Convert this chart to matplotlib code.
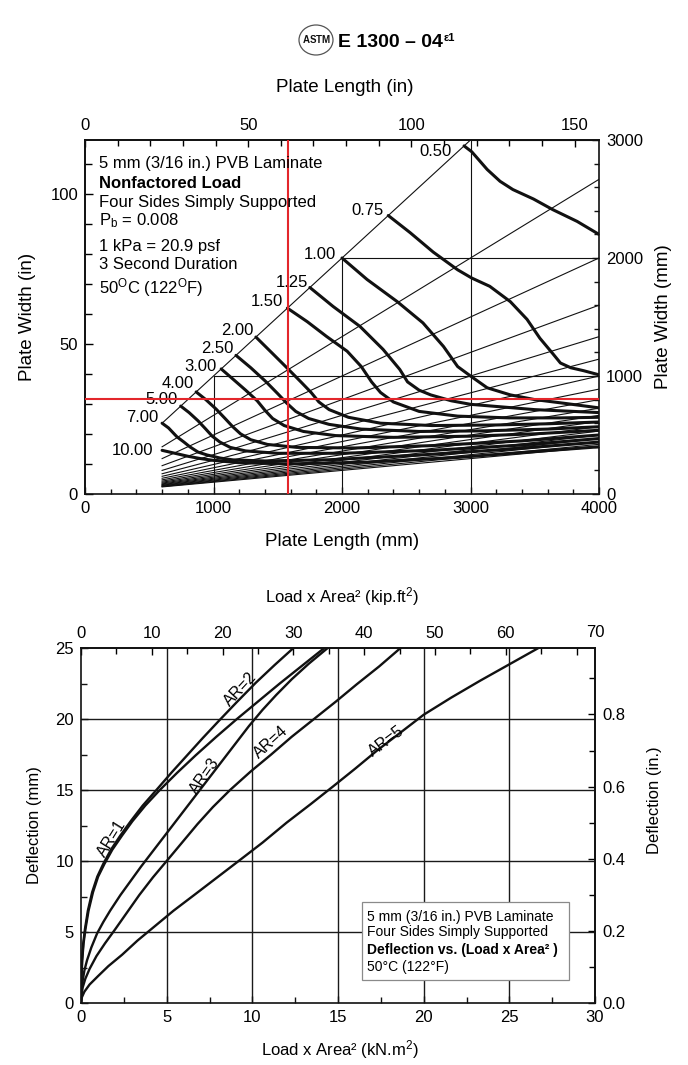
import matplotlib
matplotlib.use("Agg")
import matplotlib.pyplot as plt
from matplotlib.ticker import MultipleLocator, FixedLocator, FuncFormatter
from matplotlib.patches import Rectangle, Ellipse

plt.rcParams['font.family'] = ['Liberation Sans', 'DejaVu Sans']
plt.rcParams['mathtext.fontset'] = 'custom'
plt.rcParams['mathtext.rm'] = 'Liberation Sans'
plt.rcParams['mathtext.it'] = 'Liberation Sans:italic'
plt.rcParams['mathtext.bf'] = 'Liberation Sans:bold'

# ---------------- Nonfactored load chart (plate dimensions in mm) ----------------
length_min_mm = 600
length_max_mm = 4000
width_max_mm = 3000
aspect_ratios = [1.0, 1.5, 2.0, 2.5, 3.0, 3.5, 4.0, 4.5, 5.0, 5.5, 6.0, 6.5,
                 7.0, 7.5, 8.0, 8.5, 9.0, 9.5, 10.0]
grid_mm = [1000, 2000, 3000]
length_ticks_mm = [0, 1000, 2000, 3000, 4000]
width_ticks_mm = [0, 1000, 2000, 3000]
length_ticks_in = [0, 50, 100, 150]
width_ticks_in = [0, 50, 100]

# load contours (kPa): plate length / plate width pairs in mm
load_050_L = [2950, 3010, 3130, 3230, 3330, 3490, 3640, 3830, 4000]
load_050_W = [2950, 2900, 2750, 2650, 2580, 2500, 2410, 2310, 2200]
load_075_L = [2360, 2530, 2710, 2900, 3010, 3150, 3310, 3440, 3540, 3640, 3700, 3780, 3880, 4000]
load_075_W = [2360, 2215, 2050, 1900, 1830, 1760, 1630, 1480, 1320, 1190, 1110, 1070, 1045, 1010]
load_100_L = [2000, 2195, 2430, 2630, 2790, 2900, 3000, 3130, 3310, 3500, 3720, 4000]
load_100_W = [2000, 1818, 1630, 1450, 1250, 1080, 1000, 900, 840, 800, 770, 730]
load_125_L = [1750, 1930, 2140, 2320, 2450, 2510, 2600, 2690, 2850, 3000, 3500, 4000]
load_125_W = [1750, 1590, 1420, 1225, 1055, 950, 880, 840, 790, 760, 715, 690]
load_150_L = [1575, 1730, 1880, 2040, 2150, 2230, 2300, 2400, 2600, 2900, 3300, 3700, 4000]
load_150_W = [1575, 1460, 1335, 1210, 1080, 950, 860, 780, 700, 660, 645, 645, 650]
load_200_L = [1330, 1460, 1580, 1680, 1760, 1820, 1900, 2050, 2300, 2700, 3200, 3600, 4000]
load_200_W = [1330, 1190, 1060, 950, 860, 780, 715, 650, 600, 580, 585, 595, 610]
load_250_L = [1175, 1290, 1410, 1500, 1570, 1640, 1740, 1900, 2150, 2600, 3100, 3600, 4000]
load_250_W = [1175, 1070, 950, 850, 770, 700, 640, 590, 550, 530, 535, 550, 570]
load_300_L = [1060, 1150, 1250, 1340, 1400, 1460, 1550, 1700, 1950, 2400, 3000, 3500, 4000]
load_300_W = [1060, 975, 880, 790, 710, 640, 580, 530, 495, 480, 490, 510, 540]
load_400_L = [865, 940, 1020, 1090, 1150, 1210, 1290, 1420, 1650, 2100, 2700, 3400, 4000]
load_400_W = [865, 800, 720, 640, 570, 510, 460, 420, 395, 390, 410, 450, 500]
load_500_L = [745, 810, 880, 940, 990, 1050, 1130, 1250, 1500, 2000, 2700, 3400, 4000]
load_500_W = [745, 690, 620, 550, 490, 440, 395, 365, 345, 345, 370, 415, 470]
load_700_L = [600, 650, 716, 770, 817, 880, 949, 1050, 1152, 1400, 1900, 2600, 3300, 4000]
load_700_W = [600, 560, 484, 440, 399, 355, 331, 305, 289, 280, 290, 330, 380, 440]
load_1000_L = [600, 700, 800, 900, 1000, 1200, 1600, 2200, 2900, 3500, 4000]
load_1000_W = [370, 345, 320, 300, 285, 265, 255, 270, 310, 360, 400]

load_names = ['0.50', '0.75', '1.00', '1.25', '1.50', '2.00', '2.50',
              '3.00', '4.00', '5.00', '7.00', '10.00']
load_lengths = [load_050_L, load_075_L, load_100_L, load_125_L, load_150_L, load_200_L,
                load_250_L, load_300_L, load_400_L, load_500_L, load_700_L, load_1000_L]
load_widths = [load_050_W, load_075_W, load_100_W, load_125_W, load_150_W, load_200_W,
               load_250_W, load_300_W, load_400_W, load_500_W, load_700_W, load_1000_W]
label_L = [2724, 2202, 1829, 1611, 1416, 1183, 1027, 895, 724, 599, 444, 366]
label_W = [2906, 2404, 2031, 1793, 1631, 1385, 1232, 1079, 935, 799, 646, 365]

example_length_mm = 1580
example_width_mm = 807

info_lines = ['5 mm (3/16 in.) PVB Laminate', 'Nonfactored Load',
              'Four Sides Simply Supported', r'P$_\mathrm{b}$ = 0.008',
              '1 kPa = 20.9 psf', '3 Second Duration',
              r'50$^\mathrm{O}$C (122$^\mathrm{O}$F)']
info_bold = [False, True, False, False, False, False, False]

# ---------------- Deflection chart (load x area^2 in kN.m^2, deflection in mm) ----------------
ar_names = ['AR=1', 'AR=2', 'AR=3', 'AR=4', 'AR=5']
ar1_x = [0, 0.025, 0.07, 0.15, 0.26, 0.44, 0.7, 1.0, 1.37, 1.83, 2.4, 3.0, 3.75,
         4.6, 5.6, 6.7, 7.9, 9.1, 10.35, 11.6, 12.9, 14.2]
ar1_y = [0, 1.6, 3.0, 4.2, 5.2, 6.5, 7.8, 8.9, 9.8, 10.8, 11.8, 12.8, 13.9,
         15.0, 16.2, 17.45, 18.75, 20.0, 21.25, 22.5, 23.75, 25.0]
ar2_x = [0, 0.02, 0.06, 0.13, 0.23, 0.4, 0.65, 0.95, 1.3, 1.75, 2.3, 2.9, 3.6,
         4.4, 5.3, 6.2, 7.1, 8.07, 9.1, 10.2, 11.3, 12.4]
ar2_y = [0, 1.6, 3.0, 4.2, 5.2, 6.5, 7.8, 8.9, 9.8, 10.8, 11.8, 12.8, 13.9,
         15.0, 16.25, 17.45, 18.65, 19.9, 21.2, 22.55, 23.8, 25.0]
ar3_x = [0, 0.03, 0.1, 0.2, 0.35, 0.6, 0.94, 1.3, 1.7, 2.3, 2.9, 3.5, 4.2, 4.9,
         5.6, 6.3, 7.0, 7.7, 8.4, 9.1, 9.8, 10.6, 11.4, 12.3, 13.3, 14.4]
ar3_y = [0, 0.8, 1.6, 2.3, 3.0, 3.9, 4.9, 5.7, 6.5, 7.6, 8.6, 9.6, 10.7, 11.8,
         12.9, 14.0, 15.1, 16.2, 17.3, 18.4, 19.5, 20.65, 21.7, 22.8, 23.9, 25.0]
ar4_x = [0, 0.03, 0.1, 0.25, 0.5, 0.9, 1.4, 2.0, 2.7, 3.4, 4.2, 5.0, 5.9, 6.8,
         7.7, 8.7, 9.9, 11.1, 12.3, 13.6, 14.9, 16.1, 17.4, 18.65]
ar4_y = [0, 0.6, 1.1, 1.7, 2.4, 3.3, 4.2, 5.2, 6.4, 7.6, 8.85, 10.0, 11.3, 12.6,
         13.8, 15.0, 16.3, 17.5, 18.75, 20.0, 21.25, 22.45, 23.7, 25.0]
ar5_x = [0, 0.05, 0.2, 0.5, 1.0, 1.6, 2.4, 3.3, 4.3, 5.4, 6.6, 7.9, 9.2, 10.6,
         12.0, 13.4, 14.7, 16.0, 17.3, 18.6, 20.0, 21.6, 23.3, 25.0, 26.7]
ar5_y = [0, 0.4, 0.8, 1.3, 1.9, 2.6, 3.4, 4.4, 5.4, 6.5, 7.6, 8.8, 10.0, 11.3,
         12.7, 14.0, 15.24, 16.5, 17.8, 19.0, 20.3, 21.5, 22.7, 23.85, 25.0]
ar_x = [ar1_x, ar2_x, ar3_x, ar4_x, ar5_x]
ar_y = [ar1_y, ar2_y, ar3_y, ar4_y, ar5_y]
ar_label_x = [1.8, 9.3, 7.2, 11.1, 17.8]
ar_label_y = [11.6, 22.1, 16.0, 18.4, 18.4]
ar_label_rot = [58, 47, 55, 42, 37]

kNm2_per_kipft2 = 0.41325
mm_per_in = 25.4
x_ticks_kNm2 = [0, 5, 10, 15, 20, 25, 30]
y_ticks_mm = [0, 5, 10, 15, 20, 25]
x_ticks_kipft2 = [0, 10, 20, 30, 40, 50, 60, 70]
y_ticks_in = [0.0, 0.2, 0.4, 0.6, 0.8]

note_lines = ['5 mm (3/16 in.) PVB Laminate', 'Four Sides Simply Supported',
              'Deflection vs. (Load x Area² )', '50°C (122°F)']
note_bold = [False, False, True, False]

# ---------------- figure ----------------
W_PX, H_PX = 688, 1065
fig = plt.figure(figsize=(W_PX / 100, H_PX / 100), dpi=100)


def fx(px):
    return px / W_PX


def fy(py):
    return 1 - py / H_PX


TICK_FS = 12
LABEL_FS = 13.5
LINE_K = '#111111'

# ---- header: emblem + designation ----
fig.add_artist(Ellipse((fx(316), fy(40)), 34 / W_PX, 30 / H_PX, fill=False,
                       lw=0.9, ec='#555555', transform=fig.transFigure))
for k, ch in enumerate('ASTM'):
    fig.text(fx(306.5 + k * 6.4), fy(40), ch, fontsize=7, fontweight='bold',
             ha='center', va='center', color=LINE_K,
             family=['Liberation Sans Narrow', 'Liberation Sans'])
hdr = fig.text(fx(338), fy(47), 'E 1300 – 04', fontsize=14, fontweight='bold',
               ha='left', va='baseline')
renderer = fig.canvas.get_renderer()
bb = hdr.get_window_extent(renderer)
fig.text(bb.x1 / fig.bbox.width + 1 / W_PX, fy(41), 'ε1', fontsize=8,
         fontweight='bold', ha='left', va='baseline')

# ---- top chart ----
ax1 = fig.add_axes([fx(85), fy(494), (599 - 85) / W_PX, (494 - 140) / H_PX])
ax1.set_xlim(0, length_max_mm)
ax1.set_ylim(0, width_max_mm)

for ar in aspect_ratios:
    l_end = min(length_max_mm, width_max_mm * ar)
    ax1.plot([length_min_mm, l_end], [length_min_mm / ar, l_end / ar],
             color=LINE_K, lw=0.8, zorder=2)
for g in grid_mm:
    ax1.plot([g, g], [0, g], color=LINE_K, lw=0.8, zorder=2)
    ax1.plot([g, length_max_mm], [g, g], color=LINE_K, lw=0.8, zorder=2)

for L, Wd in zip(load_lengths, load_widths):
    ax1.plot(L, Wd, color=LINE_K, lw=2.2, solid_joinstyle='round',
             solid_capstyle='round', zorder=3)
for name, lx, ly in zip(load_names, label_L, label_W):
    ax1.text(lx, ly, name, fontsize=12, ha='center', va='center', zorder=4)

ax1.axvline(example_length_mm, color='#e3262b', lw=1.5, zorder=5)
ax1.axhline(example_width_mm, color='#e3262b', lw=1.5, zorder=5)

ax1.xaxis.set_major_locator(FixedLocator(length_ticks_mm))
ax1.xaxis.set_minor_locator(MultipleLocator(200))
ax1.yaxis.tick_right()
ax1.yaxis.set_major_locator(FixedLocator(width_ticks_mm))
ax1.yaxis.set_minor_locator(MultipleLocator(200))
ax1.tick_params(which='both', direction='in', top=False, left=False, right=True,
                labelsize=TICK_FS, width=1.0, color=LINE_K)
ax1.tick_params(which='major', length=5, pad=5)
ax1.tick_params(which='minor', length=3.5)
for s in ax1.spines.values():
    s.set_linewidth(1.2)
    s.set_color(LINE_K)

sec_top1 = ax1.secondary_xaxis('top', functions=(lambda v: v / mm_per_in,
                                                 lambda v: v * mm_per_in))
sec_top1.xaxis.set_major_locator(FixedLocator(length_ticks_in))
sec_top1.xaxis.set_minor_locator(MultipleLocator(10))
sec_top1.tick_params(which='both', direction='in', labelsize=TICK_FS, width=1.0)
sec_top1.tick_params(which='major', length=5, pad=5)
sec_top1.tick_params(which='minor', length=4)
sec_top1.spines['top'].set_linewidth(1.2)

sec_left1 = ax1.secondary_yaxis('left', functions=(lambda v: v / mm_per_in,
                                                   lambda v: v * mm_per_in))
sec_left1.yaxis.set_major_locator(FixedLocator(width_ticks_in))
sec_left1.yaxis.set_minor_locator(MultipleLocator(10))
sec_left1.tick_params(which='both', direction='in', labelsize=TICK_FS, width=1.0)
sec_left1.tick_params(which='major', length=6, pad=5)
sec_left1.tick_params(which='minor', length=5)
sec_left1.spines['left'].set_linewidth(1.2)

info_base = [168, 188, 207, 225, 251, 269, 293]
for txt, bold, yb in zip(info_lines, info_bold, info_base):
    fig.text(fx(99), fy(yb), txt, fontsize=12, ha='left', va='baseline',
             fontweight='bold' if bold else 'normal')

fig.text(fx(345), fy(88), 'Plate Length (in)', fontsize=LABEL_FS, ha='center', va='center')
fig.text(fx(342), fy(542), 'Plate Length (mm)', fontsize=LABEL_FS, ha='center', va='center')
fig.text(fx(27), fy(317), 'Plate Width (in)', fontsize=LABEL_FS, ha='center',
         va='center', rotation=90)
fig.text(fx(663), fy(317), 'Plate Width (mm)', fontsize=LABEL_FS, ha='center',
         va='center', rotation=90)

# ---- bottom chart ----
ax2 = fig.add_axes([fx(81), fy(1003), (595 - 81) / W_PX, (1003 - 648) / H_PX])
ax2.set_xlim(0, 30)
ax2.set_ylim(0, 25)
for gx in x_ticks_kNm2[1:-1]:
    ax2.axvline(gx, color='#1a1a1a', lw=1.0, zorder=1)
for gy in y_ticks_mm[1:-1]:
    ax2.axhline(gy, color='#1a1a1a', lw=1.0, zorder=1)

for xs, ys in zip(ar_x, ar_y):
    ax2.plot(xs, ys, color=LINE_K, lw=1.7, solid_joinstyle='round', zorder=3)
for name, lx, ly, rot in zip(ar_names, ar_label_x, ar_label_y, ar_label_rot):
    ax2.text(lx, ly, name, fontsize=11.5, ha='center', va='center',
             rotation=rot, rotation_mode='anchor', zorder=4)

ax2.xaxis.set_major_locator(FixedLocator(x_ticks_kNm2))
ax2.xaxis.set_minor_locator(MultipleLocator(2.5))
ax2.yaxis.set_major_locator(FixedLocator(y_ticks_mm))
ax2.yaxis.set_minor_locator(MultipleLocator(2.5))
ax2.tick_params(which='both', direction='in', top=False, right=False,
                labelsize=TICK_FS, width=1.0, color=LINE_K)
ax2.tick_params(which='major', length=5, pad=5)
ax2.tick_params(which='minor', length=4)
for s in ax2.spines.values():
    s.set_linewidth(1.2)
    s.set_color(LINE_K)

sec_top2 = ax2.secondary_xaxis('top', functions=(lambda v: v / kNm2_per_kipft2,
                                                 lambda v: v * kNm2_per_kipft2))
sec_top2.xaxis.set_major_locator(FixedLocator(x_ticks_kipft2))
sec_top2.xaxis.set_minor_locator(MultipleLocator(5))
sec_top2.xaxis.set_major_formatter(
    FuncFormatter(lambda v, p: '' if v >= x_ticks_kipft2[-1] else f'{v:g}'))
sec_top2.tick_params(which='both', direction='in', labelsize=TICK_FS, width=1.0)
sec_top2.tick_params(which='major', length=5, pad=5)
sec_top2.tick_params(which='minor', length=4)
sec_top2.spines['top'].set_linewidth(1.2)
# the last kip label sits at the right-hand corner of the frame
ax2.text(1.0, 1.0 + 8 / 355, f'{x_ticks_kipft2[-1]}', transform=ax2.transAxes,
         fontsize=TICK_FS, ha='center', va='bottom')

sec_right2 = ax2.secondary_yaxis('right', functions=(lambda v: v / mm_per_in,
                                                     lambda v: v * mm_per_in))
sec_right2.yaxis.set_major_locator(FixedLocator(y_ticks_in))
sec_right2.yaxis.set_minor_locator(MultipleLocator(0.1))
sec_right2.yaxis.set_major_formatter(FuncFormatter(lambda v, p: f'{v:.1f}'))
sec_right2.tick_params(which='both', direction='in', labelsize=TICK_FS, width=1.0)
sec_right2.tick_params(which='major', length=5, pad=5)
sec_right2.tick_params(which='minor', length=4)
sec_right2.spines['right'].set_linewidth(1.2)

ax2.add_patch(Rectangle((16.4, 1.6), 12.1, 5.5, facecolor='white', edgecolor='#8a8a8a',
                        lw=0.9, zorder=6))
note_base = [921, 936, 954, 971]
for txt, bold, yb in zip(note_lines, note_bold, note_base):
    fig.text(fx(367), fy(yb), txt, fontsize=10, ha='left', va='baseline',
             fontweight='bold' if bold else 'normal', zorder=7)

fig.text(fx(342), fy(597), 'Load x Area² (kip.ft$^{2}$)', fontsize=12, ha='center', va='center')
fig.text(fx(340), fy(1050), 'Load x Area² (kN.m$^{2}$)', fontsize=12, ha='center', va='center')
fig.text(fx(35), fy(825), 'Deflection (mm)', fontsize=12, ha='center', va='center',
         rotation=90)
fig.text(fx(655), fy(800), 'Deflection (in.)', fontsize=12, ha='center', va='center',
         rotation=90)

fig.savefig('out.png', dpi=100, facecolor='white')
